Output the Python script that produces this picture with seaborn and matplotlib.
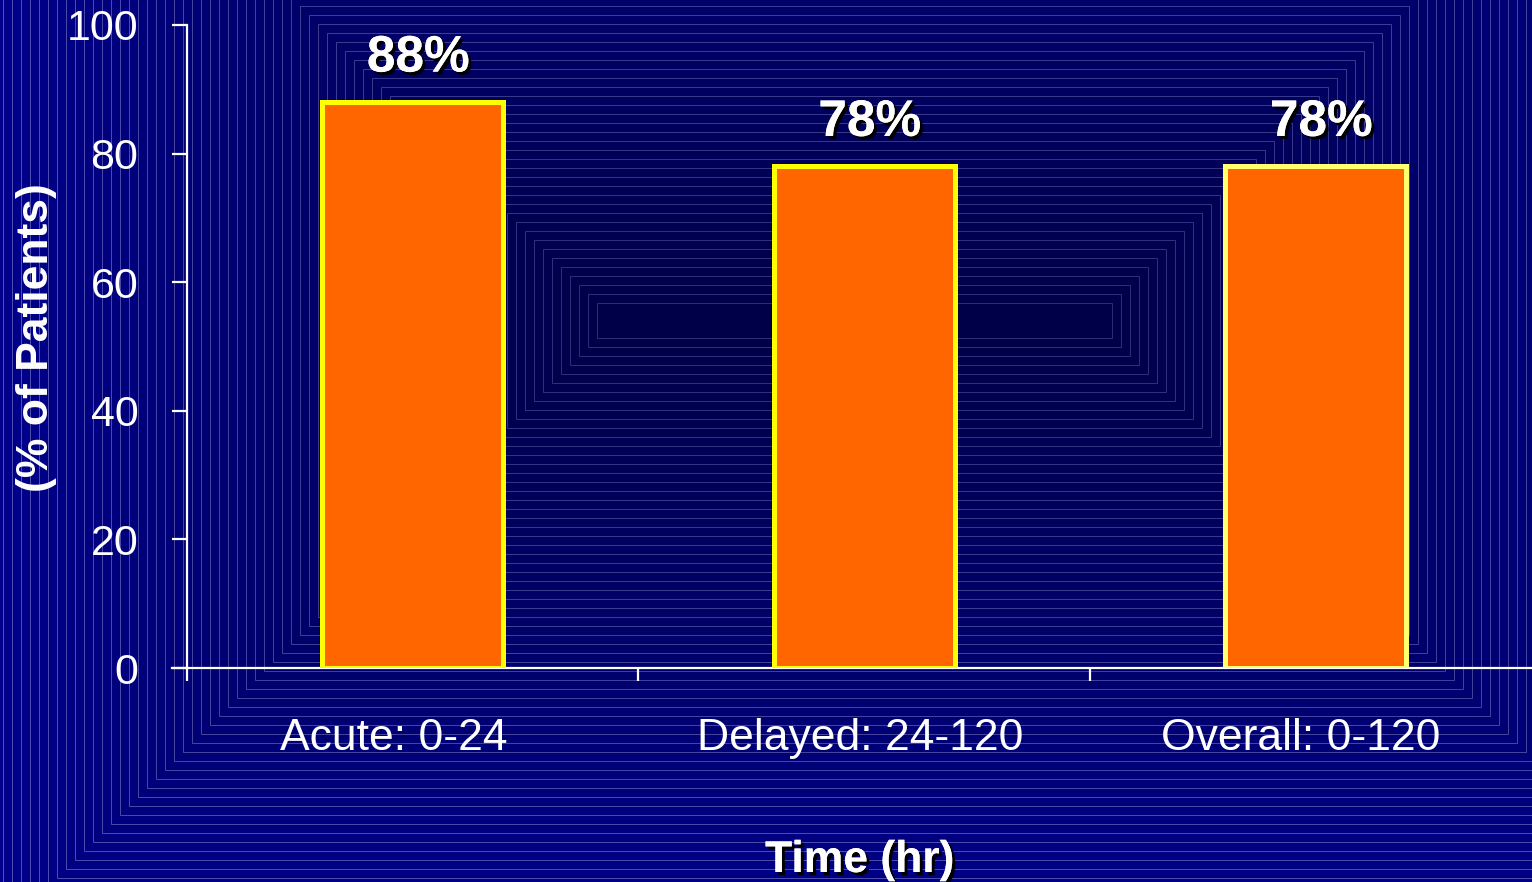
import matplotlib
matplotlib.use("Agg")
import matplotlib.pyplot as plt
import matplotlib.patheffects as pe
from matplotlib.patches import Rectangle
from matplotlib.transforms import IdentityTransform, ScaledTranslation
import numpy as np
import seaborn as sns

# ---- data -------------------------------------------------------------
categories = ["Acute: 0-24", "Delayed: 24-120", "Overall: 0-120"]
percent_patients = [88, 78, 78]
value_labels = ["88%", "78%", "78%"]
y_ticks = [0, 20, 40, 60, 80, 100]

# ---- style ------------------------------------------------------------
sns.set_style("ticks")
plt.rcParams["font.family"] = ["Liberation Sans", "DejaVu Sans"]

W, H, DPI = 1532, 882, 100
fig = plt.figure(figsize=(W / DPI, H / DPI), dpi=DPI)

edge_rgb = np.array([0x00, 0x00, 0x8C]) / 255
core_rgb = np.array([0x00, 0x00, 0x48]) / 255
line_edge = np.array([0x50, 0x50, 0xB4]) / 255
line_core = np.array([0x2C, 0x2C, 0x74]) / 255
fig.patch.set_facecolor(edge_rgb)

# concentric rectangle backdrop (display pixels, origin bottom-left)
cx, cy = 854.5, H - 320.5
hx0, hy0, step, n_rings = 257.5, 17.5, 9.0, 68
for k in range(n_rings, -1, -1):
    t = k / n_rings
    hx, hy = hx0 + step * k, hy0 + step * k
    fig.patches.append(Rectangle(
        (cx - hx, cy - hy), 2 * hx, 2 * hy,
        transform=IdentityTransform(), figure=fig,
        facecolor=core_rgb + (edge_rgb - core_rgb) * t,
        edgecolor=line_core + (line_edge - line_core) * t,
        linewidth=0.72, zorder=-10))

# axes: x spans category boundaries, extends past the right edge
x0_px, cat_px = 187, 451.5
y0_px, y100_px = 668, 25
ax = fig.add_axes([x0_px / W, (H - y0_px) / H,
                   3 * cat_px / W, (y0_px - y100_px) / H])
ax.set_facecolor("none")

sns.barplot(x=categories, y=percent_patients, color="#FF6600",
            width=0.40, edgecolor="#FFFF00", linewidth=3.6,
            saturation=1, ax=ax)
ax.patches[2].set_edgecolor("#FFFF70")

ax.set_xlim(-0.5, 2.5)
ax.set_ylim(0, 100)
ax.set_yticks(y_ticks)
ax.set_yticklabels([str(v) for v in y_ticks])
ax.set_xlabel("")
ax.set_ylabel("")

for side in ("top", "right"):
    ax.spines[side].set_visible(False)
for side in ("left", "bottom"):
    ax.spines[side].set_color("white")
    ax.spines[side].set_linewidth(1.6)
ax.spines["bottom"].set_bounds(-0.5 - 15 / cat_px, 2.5)
ax.spines["bottom"].set_zorder(0.5)

ax.tick_params(axis="y", colors="white", length=11, width=1.6,
               labelsize=31, pad=24, direction="out")
ax.tick_params(axis="x", which="major", colors="white", length=0,
               labelsize=32, pad=36)
ax.set_xticks([-0.5, 0.5, 1.5], minor=True)
ax.tick_params(axis="x", which="minor", colors="white", length=9,
               width=1.6, direction="out")

label_shift = [-19, -4, -15]
for lab, dx in zip(ax.get_xticklabels(), label_shift):
    lab.set_transform(lab.get_transform() +
                      ScaledTranslation(dx / DPI, 0, fig.dpi_scale_trans))

shadow = [pe.withSimplePatchShadow(offset=(2.2, -2.2),
                                   shadow_rgbFace="black", alpha=1.0),
          pe.Normal()]

for i, (v, txt) in enumerate(zip(percent_patients, value_labels)):
    ax.annotate(txt, xy=(i, v), xytext=(4, 22), textcoords="offset points",
                ha="center", va="baseline", color="white",
                fontsize=37, fontweight="bold", path_effects=shadow)

fig.text(860 / W, (H - 872) / H, "Time (hr)", ha="center", va="baseline",
         color="white", fontsize=32, fontweight="bold", path_effects=shadow)
fig.text(37 / W, (H - 338) / H, "(% of Patients)", rotation=90,
         ha="center", va="center", color="white", fontsize=32,
         fontweight="bold")

fig.savefig("out.png", dpi=DPI, facecolor=fig.get_facecolor())
